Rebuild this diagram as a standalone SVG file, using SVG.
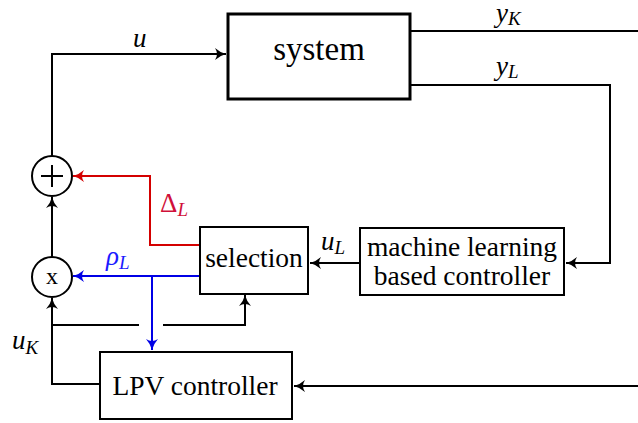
<svg xmlns="http://www.w3.org/2000/svg" width="638" height="423" viewBox="0 0 638 423">
  <style>
    .box { fill: #fff; stroke: #000; stroke-width: 2; }
    .sys { fill: #fff; stroke: #000; stroke-width: 3; }
    .wire { fill: none; stroke: #000; stroke-width: 2; }
    .red { fill: none; stroke: #d40000; stroke-width: 2; }
    .blue { fill: none; stroke: #0000e6; stroke-width: 2; }
  </style>
  <defs>
    <marker id="arr" markerUnits="userSpaceOnUse" markerWidth="14" markerHeight="14" refX="0" refY="0" viewBox="-13 -7 14 14" orient="auto" overflow="visible">
      <path d="M0,0 Q-6,-1.5 -11,-6 Q-7,0 -11,6 Q-6,1.5 0,0 Z" fill="#000"/>
    </marker>
    <marker id="arrR" markerUnits="userSpaceOnUse" markerWidth="14" markerHeight="14" refX="0" refY="0" viewBox="-13 -7 14 14" orient="auto" overflow="visible">
      <path d="M0,0 Q-6,-1.5 -11,-6 Q-7,0 -11,6 Q-6,1.5 0,0 Z" fill="#d40000"/>
    </marker>
    <marker id="arrB" markerUnits="userSpaceOnUse" markerWidth="14" markerHeight="14" refX="0" refY="0" viewBox="-13 -7 14 14" orient="auto" overflow="visible">
      <path d="M0,0 Q-6,-1.5 -11,-6 Q-7,0 -11,6 Q-6,1.5 0,0 Z" fill="#0000e6"/>
    </marker>
  </defs>

  <!-- connectors -->
  <g id="connectors">
    <path class="wire" d="M52,156 V54 H226" marker-end="url(#arr)"/>
    <path class="wire" d="M410,31 H638"/>
    <path class="wire" d="M410,85 H610 V263 H566" marker-end="url(#arr)"/>
    <path class="wire" d="M360,263 H310" marker-end="url(#arr)"/>
    <path class="red" d="M200,245 H150 V176 H73" marker-end="url(#arrR)"/>
    <path class="blue" d="M200,276 H73" marker-end="url(#arrB)"/>
    <path class="blue" d="M152,276 V350" marker-end="url(#arrB)"/>
    <path class="wire" d="M52,257 V197" marker-end="url(#arr)"/>
    <path class="wire" d="M100,384 H52 V298" marker-end="url(#arr)"/>
    <path class="wire" d="M52,325 H139"/>
    <path class="wire" d="M163,325 H245 V295" marker-end="url(#arr)"/>
    <path class="wire" d="M638,386 H294" marker-end="url(#arr)"/>
  </g>

  <!-- signal labels -->
  <g id="labels" fill="#000">
    <text font-family="Liberation Serif" style="font-family:'Liberation Serif',serif !important" font-style="italic" font-size="27" x="133" y="47">u</text>
    <text font-family="Liberation Serif" style="font-family:'Liberation Serif',serif !important" font-style="italic" font-size="27" x="496" y="22">y<tspan font-size="19" dy="3">K</tspan></text>
    <text font-family="Liberation Serif" style="font-family:'Liberation Serif',serif !important" font-style="italic" font-size="27" x="496" y="75">y<tspan font-size="19" dy="3">L</tspan></text>
    <text font-family="Liberation Serif" style="font-family:'Liberation Serif',serif !important" font-style="italic" font-size="27" x="321" y="250">u<tspan font-size="19" dy="4">L</tspan></text>
    <text font-family="Liberation Serif" style="font-family:'Liberation Serif',serif !important" font-style="italic" font-size="27" x="12" y="349">u<tspan font-size="19" dy="5">K</tspan></text>
    <text font-family="Liberation Serif" style="font-family:'Liberation Serif',serif !important" font-size="27" x="160" y="212" fill="#d0103a">&#916;<tspan font-style="italic" font-size="19" dy="4">L</tspan></text>
    <text font-family="Liberation Serif" style="font-family:'Liberation Serif',serif !important" font-style="italic" font-size="27" x="106" y="265" fill="#1a1aff">&#961;<tspan font-size="19" dy="4">L</tspan></text>
  </g>

  <g id="system">
    <rect class="sys" x="228" y="14" width="182" height="85"/>
    <text font-family="Liberation Serif" style="font-family:'Liberation Serif',serif !important" font-size="33" text-anchor="middle" x="319" y="60">system</text>
  </g>

  <g id="ml-controller">
    <rect class="box" x="360" y="228" width="204" height="67"/>
    <text font-family="Liberation Serif" style="font-family:'Liberation Serif',serif !important" font-size="27.5" text-anchor="middle" x="462" y="256">machine learning</text>
    <text font-family="Liberation Serif" style="font-family:'Liberation Serif',serif !important" font-size="27.5" text-anchor="middle" x="462" y="285">based controller</text>
  </g>

  <g id="selection">
    <rect class="box" x="200" y="227" width="108" height="67"/>
    <text font-family="Liberation Serif" style="font-family:'Liberation Serif',serif !important" font-size="27.5" text-anchor="middle" x="254" y="267">selection</text>
  </g>

  <g id="lpv-controller">
    <rect class="box" x="100" y="352" width="192" height="67"/>
    <text font-family="Liberation Serif" style="font-family:'Liberation Serif',serif !important" font-size="27.5" text-anchor="middle" x="195" y="395">LPV controller</text>
  </g>

  <g id="sum">
    <circle class="box" cx="52" cy="176" r="20"/>
    <path class="wire" d="M41,176 H63 M52,165 V187" stroke-width="2.5"/>
  </g>

  <g id="product">
    <circle class="box" cx="52" cy="277" r="20"/>
    <text font-family="Liberation Serif" style="font-family:'Liberation Serif',serif !important" font-size="24" text-anchor="middle" x="52" y="284">x</text>
  </g>
</svg>
